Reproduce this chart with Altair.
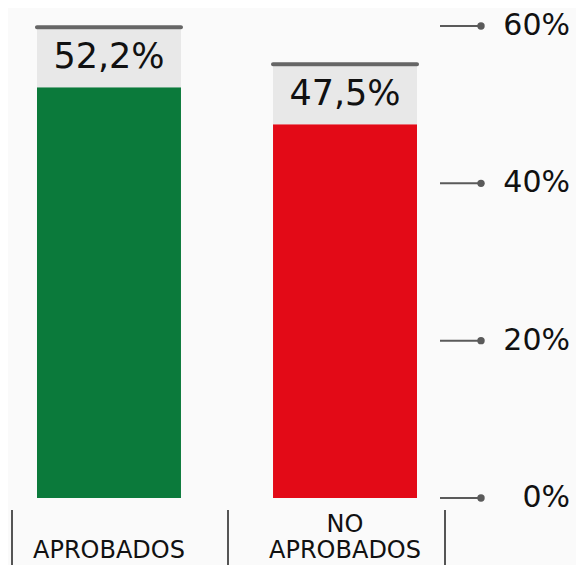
import altair as alt
import pandas as pd

categories = ["APROBADOS", "NO APROBADOS"]
values = [52.2, 47.5]
x_labels = ["APROBADOS", "NO\nAPROBADOS"]
bar_colors = ["#0b7a3b", "#e30a17"]
y_ticks = [0, 20, 40, 60]

pct_labels = [f"{v:.1f}%".replace(".", ",") for v in values]
line_top = [s.split("\n")[0] if "\n" in s else "" for s in x_labels]
line_bottom = [s.split("\n")[-1] for s in x_labels]

df = pd.DataFrame({"cat": categories, "value": values, "label": pct_labels,
                   "top": line_top, "bottom": line_bottom})
ticks_df = pd.DataFrame({"t": y_ticks, "tlabel": [f"{t}%" for t in y_ticks]})

FONT = "DejaVu Sans"
xscale = alt.Scale(domain=categories, range=[29, 409], paddingInner=0.39, paddingOuter=0)
yscale = alt.Scale(domain=[0, 60], nice=False, zero=True)
X = alt.X("cat:N", scale=xscale, axis=None, sort=categories)
Y = alt.Y("value:Q", scale=yscale, axis=None)

base = alt.Chart(df)

bars = base.mark_bar().encode(
    x=X, y=Y, y2=alt.datum(0),
    color=alt.Color("cat:N", scale=alt.Scale(domain=categories, range=bar_colors), legend=None),
)

boxes = base.mark_bar(color="#e8e8e8", y2Offset=-58).encode(x=X, y=Y, y2="value:Q")

toplines = base.mark_bar(color="#666666", yOffset=-58, y2Offset=-62, width=148, cornerRadius=2).encode(
    x=X, y=Y, y2="value:Q")

pct_text = base.mark_text(font=FONT, fontSize=35, color="#111111", baseline="middle", yOffset=-30).encode(
    x=X, y=Y, text="label:N")

cat_top = base.mark_text(font=FONT, fontSize=24, color="#111111", baseline="alphabetic").encode(
    x=X, y=alt.value(506), text="top:N")
cat_bottom = base.mark_text(font=FONT, fontSize=24, color="#111111", baseline="alphabetic").encode(
    x=X, y=alt.value(532), text="bottom:N")

def sep(cat, off):
    return base.transform_filter(alt.datum.cat == cat).mark_rule(
        color="#555555", strokeWidth=2, xOffset=off).encode(
        x=X, y=alt.value(484), y2=alt.value(560))

seps = sep("APROBADOS", -97) + sep("APROBADOS", 119) + sep("NO APROBADOS", 100)

tb = alt.Chart(ticks_df)
TY = alt.Y("t:Q", scale=yscale, axis=None)
tick_rules = tb.mark_rule(color="#5a5a5a", strokeWidth=2).encode(
    x=alt.value(432), x2=alt.value(473), y=TY)
dots = tb.mark_point(filled=True, size=55, color="#5a5a5a", opacity=1).encode(
    x=alt.value(473), y=TY)
tick_text = tb.mark_text(font=FONT, fontSize=30, color="#111111", align="right", baseline="middle").encode(
    x=alt.value(562), y=TY, text="tlabel:N")

chart = alt.layer(bars, boxes, toplines, pct_text, cat_top, cat_bottom, seps,
                  tick_rules, dots, tick_text).properties(
    width=432, height=472,
    autosize=alt.AutoSizeParams(type="none"),
    padding={"left": 0, "top": 18, "right": 136, "bottom": 67},
    background="#fafafa",
).configure_view(stroke=None)

chart.save("out.html", embed_options={"renderer": "svg", "actions": False})
